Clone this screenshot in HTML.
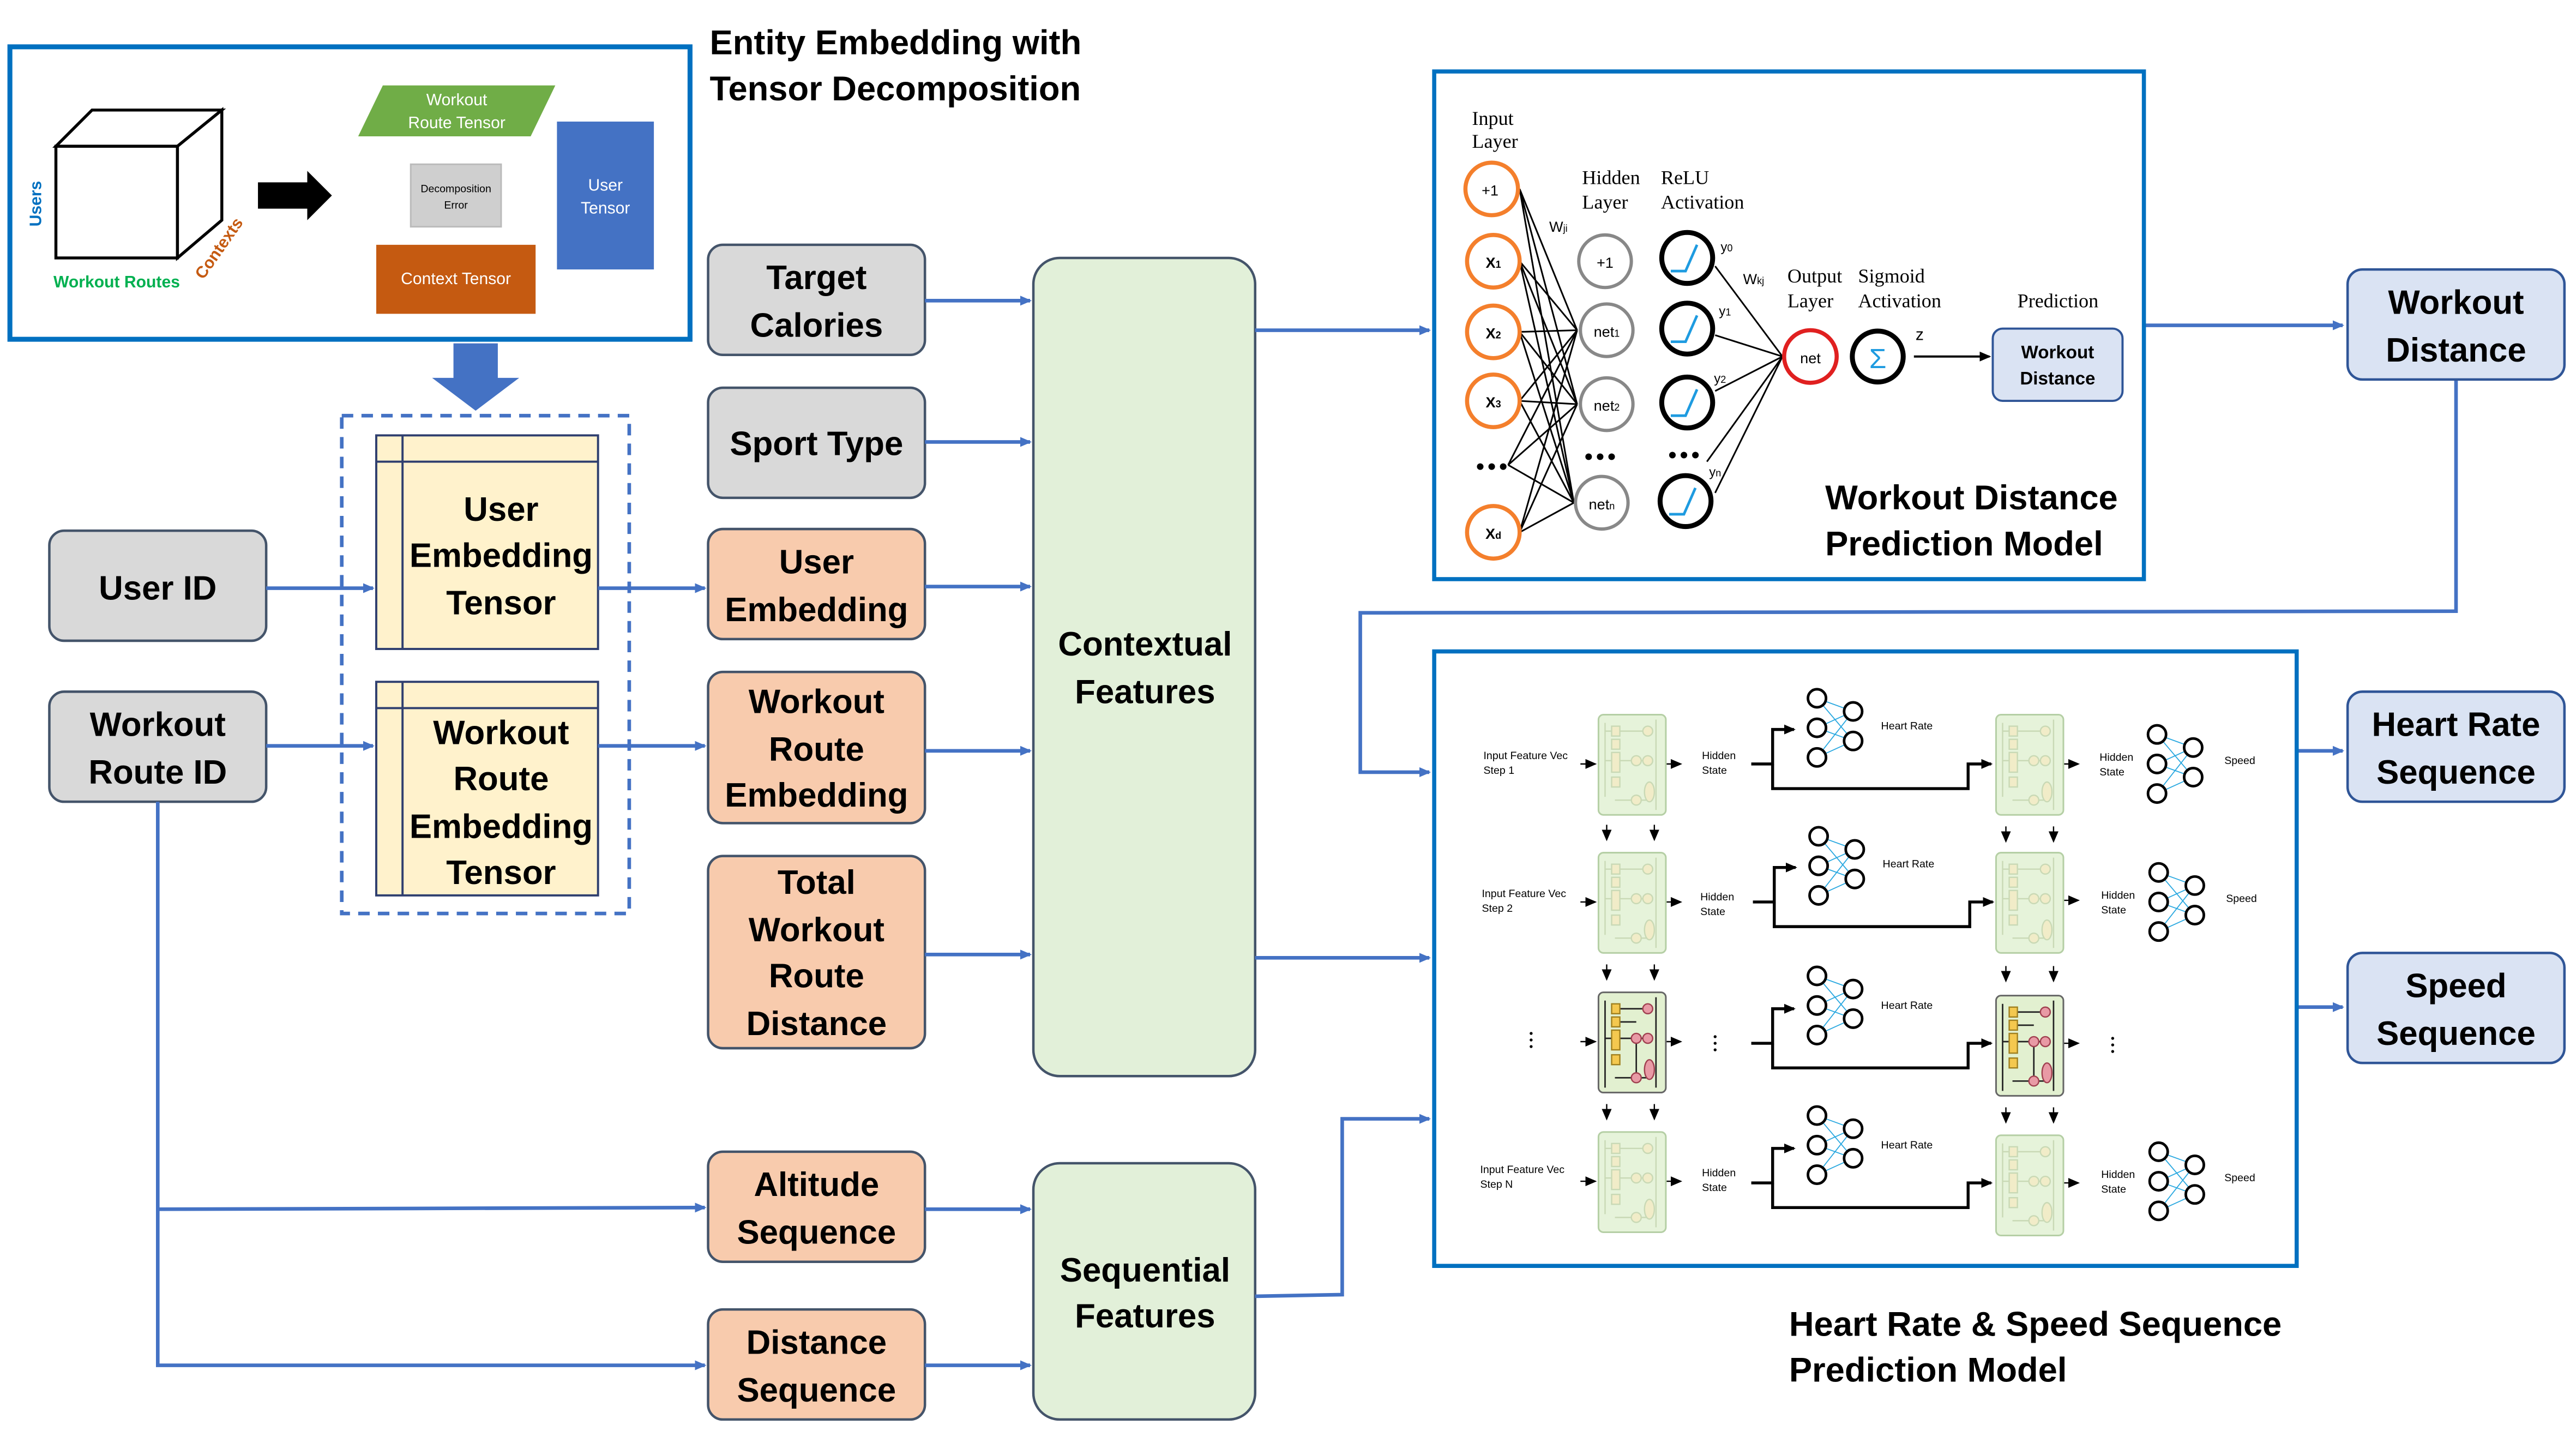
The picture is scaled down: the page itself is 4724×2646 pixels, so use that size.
<!DOCTYPE html>
<html><head><meta charset="utf-8">
<style>
html,body{margin:0;padding:0;background:#fff;}
svg{display:block;}
text{font-family:"Liberation Sans",sans-serif;}
.b{font-weight:bold;font-size:20.5px;fill:#000;text-anchor:middle;}
.t{font-weight:bold;font-size:21px;fill:#000;}
.s{font-family:"Liberation Serif",serif;font-size:12px;fill:#000;}
.sm{font-size:6.5px;fill:#000;}
.bl{stroke:#4472c4;stroke-width:2.2;fill:none;}
</style></head><body>
<svg width="4724" height="2646" viewBox="0 0 1568 878.3" xmlns="http://www.w3.org/2000/svg">
<defs>
<marker id="ah" markerWidth="8" markerHeight="8" refX="6" refY="4" orient="auto" markerUnits="userSpaceOnUse"><path d="M0,1 L7,4 L0,7 z" fill="#4472c4"/></marker>
<marker id="kh" markerWidth="8" markerHeight="8" refX="6" refY="4" orient="auto" markerUnits="userSpaceOnUse"><path d="M0,1 L7,4 L0,7 z" fill="#000"/></marker>
<g id="cell">
<rect x="0" y="0" width="41" height="61" rx="3" fill="#e6f3da" stroke="#b5cfa5" stroke-width="1"/>
<g stroke="#c9d9b5" stroke-width="0.8" fill="#f1ecc8">
<line x1="35" y1="3" x2="35" y2="58"/><line x1="4" y1="10" x2="30" y2="10"/><line x1="4" y1="28" x2="30" y2="28"/>
<line x1="4" y1="5" x2="4" y2="50"/><line x1="10" y1="52" x2="30" y2="52"/>
<rect x="8" y="7" width="5" height="6"/><rect x="8" y="15" width="5" height="6"/><rect x="8" y="23" width="5" height="12"/><rect x="8" y="38" width="5" height="6"/>
<circle cx="30" cy="10" r="3"/><circle cx="23" cy="28" r="3"/><circle cx="30" cy="28" r="3"/><circle cx="23" cy="52" r="3"/><ellipse cx="31" cy="47" rx="3" ry="6"/>
</g></g>
<g id="cellh">
<rect x="0" y="0" width="41" height="61" rx="3" fill="#e2f0d0" stroke="#666" stroke-width="1"/>
<g stroke="#222" stroke-width="0.9" fill="none">
<line x1="35" y1="3" x2="35" y2="58"/><line x1="13" y1="10" x2="30" y2="10"/><line x1="4" y1="28" x2="30" y2="28"/>
<line x1="4" y1="5" x2="4" y2="58"/><line x1="10" y1="52" x2="30" y2="52"/><line x1="23" y1="28" x2="23" y2="50"/><line x1="13" y1="18" x2="23" y2="18"/>
</g>
<g stroke="#a08020" stroke-width="0.8" fill="#f4c84f">
<rect x="8" y="7" width="5" height="6"/><rect x="8" y="15" width="5" height="6"/><rect x="8" y="23" width="5" height="12"/><rect x="8" y="38" width="5" height="6"/></g>
<g stroke="#a04050" stroke-width="0.8" fill="#e89aa5">
<circle cx="30" cy="10" r="3"/><circle cx="23" cy="28" r="3"/><circle cx="30" cy="28" r="3"/><circle cx="23" cy="52" r="3"/><ellipse cx="31" cy="47" rx="3" ry="6"/></g>
</g>
<g id="hr" stroke="#000" stroke-width="1.6" fill="#fff">
<g stroke="#29a8e0" stroke-width="0.6"><path d="M0,0 L22,8 M0,0 L22,26 M0,18 L22,8 M0,18 L22,26 M0,36 L22,8 M0,36 L22,26"/></g>
<circle cx="0" cy="0" r="5.5"/><circle cx="0" cy="18" r="5.5"/><circle cx="0" cy="36" r="5.5"/><circle cx="22" cy="8" r="5.5"/><circle cx="22" cy="26" r="5.5"/>
</g>
<g id="br" fill="none" stroke="#000" stroke-width="1.8">
<path d="M0,30 L13,30 L13,9 L26,9" marker-end="url(#kh)"/>
<path d="M13,30 L13,45 L132,45 L132,30 L146,30" marker-end="url(#kh)"/>
</g>
</defs>
<rect width="1568" height="878.3" fill="#fff"/>

<rect x="6" y="28.5" width="414" height="178" fill="#fff" stroke="#0070c0" stroke-width="3"/>
<text class="t" x="432" y="33">Entity Embedding with</text>
<text class="t" x="432" y="61">Tensor Decomposition</text>
<g stroke="#000" stroke-width="1.8" fill="#fff">
<rect x="34" y="89" width="74" height="68"/>
<path d="M34,89 L56,67 L135,67 L108,89 Z"/><path d="M108,89 L135,67 L135,134 L108,157 Z"/>
</g>
<text x="25" y="124" transform="rotate(-90 25 124)" font-size="10" font-weight="bold" fill="#0070c0" text-anchor="middle">Users</text>
<text x="71" y="175" font-size="10" font-weight="bold" fill="#00b050" text-anchor="middle">Workout Routes</text>
<text x="136" y="153" transform="rotate(-55 136 153)" font-size="10" font-weight="bold" fill="#c55a11" text-anchor="middle">Contexts</text>
<path d="M157,111 L187,111 L187,104 L202,119 L187,134 L187,127 L157,127 Z" fill="#000"/>
<path d="M233,52 L338,52 L323,83 L218,83 Z" fill="#70ad47"/>
<text x="278" y="64" font-size="10" fill="#fff" text-anchor="middle">Workout</text>
<text x="278" y="78" font-size="10" fill="#fff" text-anchor="middle">Route Tensor</text>
<rect x="250" y="100" width="55" height="38" fill="#cfcfcf" stroke="#bbb"/>
<text x="277.5" y="117" font-size="6.5" fill="#000" text-anchor="middle">Decomposition</text>
<text x="277.5" y="127" font-size="6.5" fill="#000" text-anchor="middle">Error</text>
<rect x="229" y="149" width="97" height="42" fill="#c55a11"/>
<text x="277.5" y="173" font-size="10" fill="#fff" text-anchor="middle">Context Tensor</text>
<rect x="339" y="74" width="59" height="90" fill="#4472c4"/>
<text x="368.5" y="116" font-size="10" fill="#fff" text-anchor="middle">User</text>
<text x="368.5" y="130" font-size="10" fill="#fff" text-anchor="middle">Tensor</text>
<path d="M276,209 L303,209 L303,230 L316,230 L289.5,250 L263,230 L276,230 Z" fill="#4472c4"/>

<rect x="208" y="253" width="175" height="303" fill="none" stroke="#4472c4" stroke-width="2.2" stroke-dasharray="7,5"/>
<g fill="#fff2cc" stroke="#2f3f6f" stroke-width="1.3">
<rect x="229" y="265" width="135" height="130"/><line x1="245" y1="265" x2="245" y2="395"/><line x1="229" y1="281" x2="364" y2="281"/>
<rect x="229" y="415" width="135" height="130"/><line x1="245" y1="415" x2="245" y2="545"/><line x1="229" y1="431" x2="364" y2="431"/>
</g>
<text class="b" x="305" y="317">User</text><text class="b" x="305" y="345">Embedding</text><text class="b" x="305" y="374">Tensor</text>
<text class="b" x="305" y="453">Workout</text><text class="b" x="305" y="481">Route</text><text class="b" x="305" y="510">Embedding</text><text class="b" x="305" y="538">Tensor</text>

<g stroke="#44546a" stroke-width="1.5">
<rect x="30" y="323" width="132" height="67" rx="9" fill="#d9d9d9"/>
<rect x="30" y="421" width="132" height="67" rx="9" fill="#d9d9d9"/>
<rect x="431" y="149" width="132" height="67" rx="9" fill="#d9d9d9"/>
<rect x="431" y="236" width="132" height="67" rx="9" fill="#d9d9d9"/>
<rect x="431" y="322" width="132" height="67" rx="9" fill="#f8cbad"/>
<rect x="431" y="409" width="132" height="92" rx="9" fill="#f8cbad"/>
<rect x="431" y="521" width="132" height="117" rx="9" fill="#f8cbad"/>
<rect x="431" y="701" width="132" height="67" rx="9" fill="#f8cbad"/>
<rect x="431" y="797" width="132" height="67" rx="9" fill="#f8cbad"/>
<rect x="629" y="157" width="135" height="498" rx="16" fill="#e2f0d9"/>
<rect x="629" y="708" width="135" height="156" rx="16" fill="#e2f0d9"/>
</g>
<text class="b" x="96" y="365">User ID</text>
<text class="b" x="96" y="448">Workout</text><text class="b" x="96" y="477">Route ID</text>
<text class="b" x="497" y="176">Target</text><text class="b" x="497" y="205">Calories</text>
<text class="b" x="497" y="277">Sport Type</text>
<text class="b" x="497" y="349">User</text><text class="b" x="497" y="378">Embedding</text>
<text class="b" x="497" y="434">Workout</text><text class="b" x="497" y="463">Route</text><text class="b" x="497" y="491">Embedding</text>
<text class="b" x="497" y="544">Total</text><text class="b" x="497" y="573">Workout</text><text class="b" x="497" y="601">Route</text><text class="b" x="497" y="630">Distance</text>
<text class="b" x="497" y="728">Altitude</text><text class="b" x="497" y="757">Sequence</text>
<text class="b" x="497" y="824">Distance</text><text class="b" x="497" y="853">Sequence</text>
<text class="b" x="697" y="399">Contextual</text><text class="b" x="697" y="428">Features</text>
<text class="b" x="697" y="780">Sequential</text><text class="b" x="697" y="808">Features</text>

<g class="bl">
<path d="M162,358 L227,358" marker-end="url(#ah)"/>
<path d="M364,358 L429,358" marker-end="url(#ah)"/>
<path d="M162,454 L227,454" marker-end="url(#ah)"/>
<path d="M364,454 L429,454" marker-end="url(#ah)"/>
<path d="M96,488 L96,831 L429,831" marker-end="url(#ah)"/>
<path d="M96,736 L429,735" marker-end="url(#ah)"/>
<path d="M563,183 L627,183" marker-end="url(#ah)"/>
<path d="M563,269 L627,269" marker-end="url(#ah)"/>
<path d="M563,357 L627,357" marker-end="url(#ah)"/>
<path d="M563,457 L627,457" marker-end="url(#ah)"/>
<path d="M563,581 L627,581" marker-end="url(#ah)"/>
<path d="M563,736 L627,736" marker-end="url(#ah)"/>
<path d="M563,831 L627,831" marker-end="url(#ah)"/>
<path d="M764,201 L870,201" marker-end="url(#ah)"/>
<path d="M764,583 L870,583" marker-end="url(#ah)"/>
<path d="M764,789 L817,788 L817,681 L870,681" marker-end="url(#ah)"/>
<path d="M1305,198 L1426,198" marker-end="url(#ah)"/>
<path d="M1495,231 L1495,372 L828,373 L828,470 L870,470" marker-end="url(#ah)"/>
<path d="M1398,457 L1426,457" marker-end="url(#ah)"/>
<path d="M1398,613 L1426,613" marker-end="url(#ah)"/>
</g>

<g stroke="#2f5597" stroke-width="1.5" fill="#dae3f3">
<rect x="1429" y="164" width="132" height="67" rx="9"/>
<rect x="1429" y="421" width="132" height="67" rx="9"/>
<rect x="1429" y="580" width="132" height="67" rx="9"/>
</g>
<text class="b" x="1495" y="191">Workout</text><text class="b" x="1495" y="220">Distance</text>
<text class="b" x="1495" y="448">Heart Rate</text><text class="b" x="1495" y="477">Sequence</text>
<text class="b" x="1495" y="607">Speed</text><text class="b" x="1495" y="636">Sequence</text>

<rect x="873" y="43.5" width="432" height="309" fill="#fff" stroke="#0070c0" stroke-width="2.5"/>
<text class="s" x="896" y="76">Input</text><text class="s" x="896" y="90">Layer</text>
<text class="s" x="963" y="112">Hidden</text><text class="s" x="963" y="127">Layer</text>
<text class="s" x="1011" y="112">ReLU</text><text class="s" x="1011" y="127">Activation</text>
<text class="s" x="1088" y="172">Output</text><text class="s" x="1088" y="187">Layer</text>
<text class="s" x="1131" y="172">Sigmoid</text><text class="s" x="1131" y="187">Activation</text>
<text class="s" x="1228" y="187">Prediction</text>
<text x="943" y="141" font-size="9" fill="#000">W<tspan font-size="6">ji</tspan></text>
<text x="1061" y="173" font-size="9" fill="#000">W<tspan font-size="6">kj</tspan></text>
<g stroke="#000" stroke-width="1" fill="none">
<path d="M925,115 L960,201 M925,115 L960,246 M925,115 L958,306 M925,159 L960,201 M925,159 L960,246 M925,159 L958,306 M925,202 L960,201 M925,202 L960,246 M925,202 L958,306 M925,244 L960,201 M925,244 L960,246 M925,244 L958,306 M918,283 L960,201 M918,283 L960,246 M918,283 L958,306 M925,324 L960,201 M925,324 L960,246 M925,324 L958,306"/>
<path d="M1044,162 L1085,217 M1044,204 L1085,217 M1044,238 L1085,217 M1039,281 L1085,217 M1044,300 L1085,217"/>
</g>
<g stroke="#f47f2c" stroke-width="2.5" fill="#fff">
<circle cx="908" cy="115" r="16"/><circle cx="909" cy="159" r="16"/><circle cx="909" cy="202" r="16"/><circle cx="909" cy="244" r="16"/><circle cx="909" cy="324" r="16"/>
</g>
<g stroke="#888" stroke-width="2" fill="#fff">
<circle cx="977" cy="159" r="16"/><circle cx="978" cy="201" r="16"/><circle cx="978" cy="246" r="16"/><circle cx="975" cy="306" r="16"/>
</g>
<g stroke="#000" stroke-width="3" fill="#fff">
<circle cx="1027" cy="157" r="15.5"/><circle cx="1027" cy="200" r="15.5"/><circle cx="1027" cy="245" r="15.5"/><circle cx="1026" cy="305" r="15.5"/>
</g>
<g stroke="#1e9be0" stroke-width="1.6" fill="none">
<path d="M1017,165 L1026,165 L1033,149"/><path d="M1017,208 L1026,208 L1033,192"/><path d="M1017,253 L1026,253 L1033,237"/><path d="M1016,313 L1025,313 L1032,297"/>
</g>
<circle cx="1102" cy="217" r="16" stroke="#e02020" stroke-width="2.5" fill="#fff"/>
<circle cx="1143" cy="217" r="15.5" stroke="#000" stroke-width="3" fill="#fff"/>
<text x="1143" y="224" font-size="17" fill="#1e9be0" text-anchor="middle">Σ</text>
<text x="1166" y="207" font-size="10" fill="#000">z</text>
<path d="M1165,217 L1211,217" stroke="#000" stroke-width="1.3" marker-end="url(#kh)"/>
<rect x="1213" y="200" width="79" height="44" rx="6" fill="#dae3f3" stroke="#2f5597" stroke-width="1.3"/>
<text x="1252.5" y="218" font-size="11" font-weight="bold" fill="#000" text-anchor="middle">Workout</text>
<text x="1252.5" y="234" font-size="11" font-weight="bold" fill="#000" text-anchor="middle">Distance</text>
<g font-size="9" fill="#000" text-anchor="middle">
<text x="907" y="119">+1</text><text x="909" y="163" font-weight="bold">X<tspan font-size="6">1</tspan></text><text x="909" y="206" font-weight="bold">X<tspan font-size="6">2</tspan></text><text x="909" y="248" font-weight="bold">X<tspan font-size="6">3</tspan></text><text x="909" y="328" font-weight="bold">X<tspan font-size="6">d</tspan></text>
<text x="977" y="163">+1</text><text x="978" y="205">net<tspan font-size="6">1</tspan></text><text x="978" y="250">net<tspan font-size="6">2</tspan></text><text x="975" y="310">net<tspan font-size="6">n</tspan></text>
<text x="1102" y="221">net</text>
<text x="1051" y="153" font-size="8">y<tspan font-size="6">0</tspan></text><text x="1050" y="192" font-size="8">y<tspan font-size="6">1</tspan></text><text x="1047" y="233" font-size="8">y<tspan font-size="6">2</tspan></text><text x="1044" y="290" font-size="8">y<tspan font-size="6">n</tspan></text>
</g>
<g fill="#000"><circle cx="901" cy="284" r="2"/><circle cx="908" cy="284" r="2"/><circle cx="915" cy="284" r="2"/>
<circle cx="967" cy="278" r="2"/><circle cx="974" cy="278" r="2"/><circle cx="981" cy="278" r="2"/>
<circle cx="1018" cy="277" r="2"/><circle cx="1025" cy="277" r="2"/><circle cx="1032" cy="277" r="2"/></g>
<text class="t" x="1111" y="310">Workout Distance</text>
<text class="t" x="1111" y="338">Prediction Model</text>

<rect x="873" y="396.5" width="525" height="374" fill="#fff" stroke="#0070c0" stroke-width="2.5"/>
<g stroke="#000" stroke-width="0.8" fill="none">
<path d="M962,465 L971,465" marker-end="url(#kh)"/><path d="M1014,465 L1023,465" marker-end="url(#kh)"/><path d="M1256,465 L1265,465" marker-end="url(#kh)"/>
<path d="M962,549 L971,549" marker-end="url(#kh)"/><path d="M1014,549 L1023,549" marker-end="url(#kh)"/><path d="M1256,548 L1265,548" marker-end="url(#kh)"/>
<path d="M962,634 L971,634" marker-end="url(#kh)"/><path d="M1014,634 L1023,634" marker-end="url(#kh)"/><path d="M1256,635 L1265,635" marker-end="url(#kh)"/>
<path d="M962,719 L971,719" marker-end="url(#kh)"/><path d="M1014,719 L1023,719" marker-end="url(#kh)"/><path d="M1256,720 L1265,720" marker-end="url(#kh)"/>
</g>
<use href="#cell" x="973" y="435"/><use href="#cell" x="1215" y="435"/>
<use href="#cell" x="973" y="519"/><use href="#cell" x="1215" y="519"/>
<use href="#cellh" x="973" y="604"/><use href="#cellh" x="1215" y="606"/>
<use href="#cell" x="973" y="689"/><use href="#cell" x="1215" y="691"/>
<g stroke="#000" stroke-width="0.8">
<path d="M978,502 L978,511" marker-end="url(#kh)"/><path d="M1007,502 L1007,511" marker-end="url(#kh)"/><path d="M1221,503 L1221,512" marker-end="url(#kh)"/><path d="M1250,503 L1250,512" marker-end="url(#kh)"/>
<path d="M978,587 L978,596" marker-end="url(#kh)"/><path d="M1007,587 L1007,596" marker-end="url(#kh)"/><path d="M1221,588 L1221,597" marker-end="url(#kh)"/><path d="M1250,588 L1250,597" marker-end="url(#kh)"/>
<path d="M978,672 L978,681" marker-end="url(#kh)"/><path d="M1007,672 L1007,681" marker-end="url(#kh)"/><path d="M1221,674 L1221,683" marker-end="url(#kh)"/><path d="M1250,674 L1250,683" marker-end="url(#kh)"/>
</g>
<use href="#br" x="1066" y="435"/><use href="#br" x="1067" y="519"/><use href="#br" x="1066" y="605"/><use href="#br" x="1066" y="690"/>
<use href="#hr" x="1106" y="425"/><use href="#hr" x="1107" y="509"/><use href="#hr" x="1106" y="594"/><use href="#hr" x="1106" y="679"/>
<use href="#hr" x="1313" y="447"/><use href="#hr" x="1314" y="531"/><use href="#hr" x="1314" y="701"/>
<g class="sm">
<text x="903" y="462">Input Feature Vec</text><text x="903" y="471">Step 1</text>
<text x="902" y="546">Input Feature Vec</text><text x="902" y="555">Step 2</text>
<text x="901" y="714">Input Feature Vec</text><text x="901" y="723">Step N</text>
<text x="1036" y="462">Hidden</text><text x="1036" y="471">State</text>
<text x="1035" y="548">Hidden</text><text x="1035" y="557">State</text>
<text x="1036" y="716">Hidden</text><text x="1036" y="725">State</text>
<text x="1278" y="463">Hidden</text><text x="1278" y="472">State</text>
<text x="1279" y="547">Hidden</text><text x="1279" y="556">State</text>
<text x="1279" y="717">Hidden</text><text x="1279" y="726">State</text>
<text x="1145" y="444">Heart Rate</text><text x="1146" y="528">Heart Rate</text><text x="1145" y="614">Heart Rate</text><text x="1145" y="699">Heart Rate</text>
<text x="1354" y="465">Speed</text><text x="1355" y="549">Speed</text><text x="1354" y="719">Speed</text>
</g>
<g fill="#000"><circle cx="932" cy="629" r="0.9"/><circle cx="932" cy="633" r="0.9"/><circle cx="932" cy="637" r="0.9"/>
<circle cx="1044" cy="631" r="0.9"/><circle cx="1044" cy="635" r="0.9"/><circle cx="1044" cy="639" r="0.9"/>
<circle cx="1286" cy="632" r="0.9"/><circle cx="1286" cy="636" r="0.9"/><circle cx="1286" cy="640" r="0.9"/></g>
<text class="t" x="1089" y="813">Heart Rate &amp; Speed Sequence</text>
<text class="t" x="1089" y="841">Prediction Model</text>
</svg>
</body></html>
